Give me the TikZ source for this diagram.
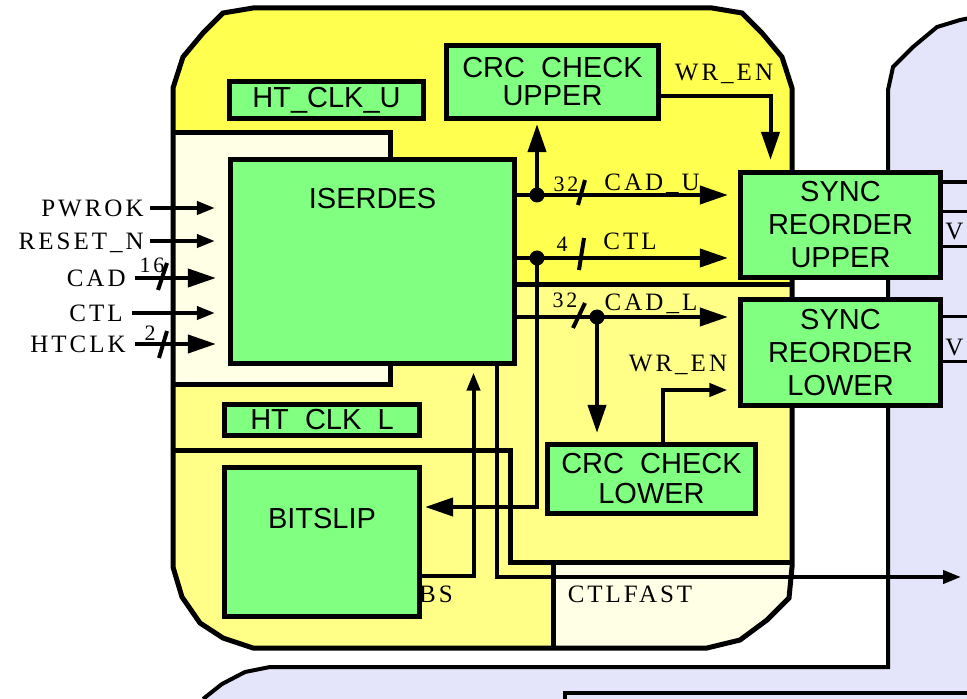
\documentclass[tikz,border=0pt]{standalone}
\usepackage{fontspec}
\setmainfont{Liberation Serif}
\newfontfamily\boxfont{Liberation Sans}
\newfontfamily\sigfont[LetterSpace=12]{Liberation Serif}
\usetikzlibrary{positioning,arrows.meta,calc}

\definecolor{hiyel}{RGB}{255,255,80}
\definecolor{loyel}{RGB}{255,255,136}
\definecolor{paleyel}{RGB}{255,255,230}
\definecolor{boxgreen}{RGB}{128,255,128}
\definecolor{lav}{RGB}{228,228,250}

% outline of the yellow receiver block
\newcommand{\yelbody}{(173,567) -- (173,88) -- (183,57) -- (203,33) -- (223,13) -- (253,8)
  -- (712,8) -- (742,13) -- (762,33) -- (782,57) -- (792,88) -- (792,567) -- (789,598)
  -- (767,620) -- (740,640) -- (707,648) -- (253,648) -- (223,638) -- (200,623)
  -- (182,597) -- cycle}

\tikzset{
  blk/.style={draw, line width=2.6pt, fill=boxgreen, align=center, inner sep=0pt,
              font=\boxfont\fontsize{14.5}{16.5}\selectfont},
  blklbl/.style={font=\boxfont\fontsize{14.5}{16.5}\selectfont, inner sep=0pt,
                 anchor=center},
  sig/.style={font=\sigfont\fontsize{12.5}{14}\selectfont, inner sep=0pt,
              text height=8.5pt, text depth=0pt},
  num/.style={font=\sigfont\fontsize{11}{12}\selectfont, inner sep=0pt},
  wire/.style={line width=2pt},
  flow/.style={wire, -{Triangle[length=14pt, width=9pt]}},
  inflow/.style={wire, -{Triangle[length=9pt, width=6.5pt]}},
  bound/.style={line width=2.5pt},
  jdot/.style={circle, fill, inner sep=0pt, minimum size=7.5pt},
}

\begin{document}
\begin{tikzpicture}[x=0.5pt, y=-0.5pt]
  \useasboundingbox[fill=white] (0,0) rectangle (967,699);

  % lavender blocks to the right and below
  \fill[lav] (203,699) -- (222,684) -- (245,672) -- (270,667) -- (888,667) -- (888,90)
    -- (893,67) -- (913,47) -- (937,27) -- (960,20) -- (975,17) -- (975,705) -- (195,705) -- cycle;
  \draw[line width=2pt] (203,699) -- (222,684) -- (245,672) -- (270,667) -- (888,667)
    -- (888,90) -- (893,67) -- (913,47) -- (937,27) -- (960,20) -- (975,17);
  \draw[line width=2pt] (565,705) -- (565,693) -- (975,693);

  % yellow block and its regions
  \fill[loyel] \yelbody;
  \begin{scope}
    \clip \yelbody;
    \fill[hiyel] (160,0) rectangle (800,133);
    \fill[hiyel] (390,133) rectangle (800,285);
    \fill[paleyel] (160,133) rectangle (390,385);
    \fill[paleyel] (553,562) rectangle (800,660);
  \end{scope}
  \draw[bound] (173,133) -- (390,133) -- (390,160);
  \draw[bound] (173,385) -- (390,385) -- (390,362);
  \draw[bound] (515,285) -- (792,285);
  \draw[bound] (173,450) -- (510,450) -- (510,562) -- (792,562);
  \draw[bound] (553,562) -- (553,648);
  \draw[bound] \yelbody;

  % blocks
  \node[blk, minimum width=97pt, minimum height=18.5pt] (htclku) at (326.5,100) {HT\_CLK\_U};
  \node[blk, minimum width=106pt, minimum height=36.5pt,
        font=\boxfont\fontsize{14.5}{14}\selectfont] (crcu) at (552.5,82) {CRC\ \ CHECK\\UPPER};
  \node[blk, minimum width=142pt, minimum height=102pt,
        label={[blklbl, yshift=-21pt]north:ISERDES}] (iserdes) at (372.5,261.5) {};
  \node[blk, minimum width=100pt, minimum height=52.5pt] (syncu) at (840.5,225) {SYNC\\REORDER\\UPPER};
  \node[blk, minimum width=100pt, minimum height=53pt] (syncl) at (840.5,352.5) {SYNC\\REORDER\\LOWER};
  \node[blk, minimum width=97.5pt, minimum height=15.5pt] (htclkl) at (322,420) {HT\ \ CLK\ \ L};
  \node[blk, minimum width=97.5pt, minimum height=74.5pt,
        label={[blklbl, yshift=-27pt]north:BITSLIP}] (bitslip) at (322,542) {};
  \node[blk, minimum width=104pt, minimum height=34.5pt,
        font=\boxfont\fontsize{14.5}{15}\selectfont] (crcl) at (651.5,479) {CRC\ \ CHECK\\LOWER};

  % inputs
  \node[sig, anchor=east] (pwrok) at (144,208) {PWROK};
  \node[sig, anchor=east] (rstn) at (144,241) {RESET\_N};
  \node[sig, anchor=east] (incad) at (126,278) {CAD};
  \node[sig, anchor=east] (inctl) at (123,313) {CTL};
  \node[sig, anchor=east] (inclk) at (126,344) {HTCLK};
  \draw[inflow, shorten <=3pt, shorten >=6.5pt] (pwrok.east) -- (pwrok.east -| iserdes.west);
  \draw[inflow, shorten <=3pt, shorten >=6.5pt] (rstn.east) -- (rstn.east -| iserdes.west);
  \draw[flow, shorten <=4.5pt, shorten >=6pt] (incad.east) -- (incad.east -| iserdes.west);
  \draw[inflow, shorten <=4.5pt, shorten >=6.5pt] (inctl.east) -- (inctl.east -| iserdes.west);
  \draw[flow, shorten <=4.5pt, shorten >=6pt] (inclk.east) -- (inclk.east -| iserdes.west);
  \draw[wire] (158,290) -- (167,263);
  \node[num] (w16) at (152,265) {16};
  \draw[wire] (159,358) -- (167,331);
  \node[num] (w2) at (150,333) {2};

  % ISERDES outputs
  \coordinate (jcadu) at (537,195);
  \coordinate (jctl) at (537,258);
  \coordinate (jcadl) at (597,317);
  \draw[flow, shorten >=5pt] (iserdes.east |- jcadu) -- (jcadu -| syncu.west);
  \draw[flow, shorten >=1.5pt] (jcadu) -- (jcadu |- crcu.south);
  \draw[flow, shorten >=5pt] (iserdes.east |- jctl) -- (jctl -| syncu.west);
  \draw[flow, shorten >=1.5pt] (jctl) |- ([yshift=17.5pt]bitslip.east);
  \draw[flow, shorten >=5pt] (iserdes.east |- jcadl) -- (jcadl -| syncl.west);
  \draw[flow, shorten >=4.5pt] (jcadl) -- (jcadl |- crcl.north);
  \node[jdot] (dcadu) at (jcadu) {};
  \node[jdot] (dctl) at (jctl) {};
  \node[jdot] (dcadl) at (jcadl) {};

  \draw[wire] (578,205) -- (585,180);
  \node[num] (w32u) at (566,184) {32};
  \node[sig] (lcadu) at (652,182) {CAD\_U};
  \draw[wire] (579,270) -- (584,238);
  \node[num] (w4) at (562,244) {4};
  \node[sig] (lctl) at (630,241) {CTL};
  \draw[wire] (573,328) -- (585,303);
  \node[num] (w32l) at (565,300) {32};
  \node[sig] (lcadl) at (651,302) {CAD\_L};

  % write enables
  \draw[flow, shorten >=5pt] ([yshift=-7pt]crcu.east) -| ([xshift=-35pt]syncu.north);
  \node[sig] (lwru) at (724,72) {WR\_EN};
  \draw[inflow, shorten >=5.25pt] ([xshift=5.75pt]crcl.north) |- ([yshift=-18.75pt]syncl.west);
  \node[sig] (lwrl) at (678,363) {WR\_EN};

  % bitslip and ctlfast
  \coordinate (ctlout) at (961,577);
  \draw[inflow] ([xshift=62.25pt]iserdes.south) |- (ctlout);
  \node[sig] (lctlf) at (630,594) {CTLFAST};
  \draw[inflow, shorten >=3.25pt] ([yshift=-17pt]bitslip.east) -| ([xshift=50.5pt]iserdes.south);
  \node[sig] (lbs) at (436,594) {BS};

  % cut-off blocks on the right
  \coordinate (uout) at (975,182);
  \draw[wire] (syncu.east |- uout) -- (uout);
  \draw[line width=1.5pt] (syncu.east |- 0,212) -- (975,212);
  \draw[line width=1.5pt] (syncu.east |- 0,247) -- (975,247);
  \node[sig, anchor=west] (lvu) at (945,231) {V};
  \draw[line width=1.5pt] (syncl.east |- 0,317) -- (975,317);
  \draw[line width=1.5pt] (syncl.east |- 0,362) -- (975,362);
  \node[sig, anchor=west] (lvl) at (945,347) {V};
\end{tikzpicture}
\end{document}
